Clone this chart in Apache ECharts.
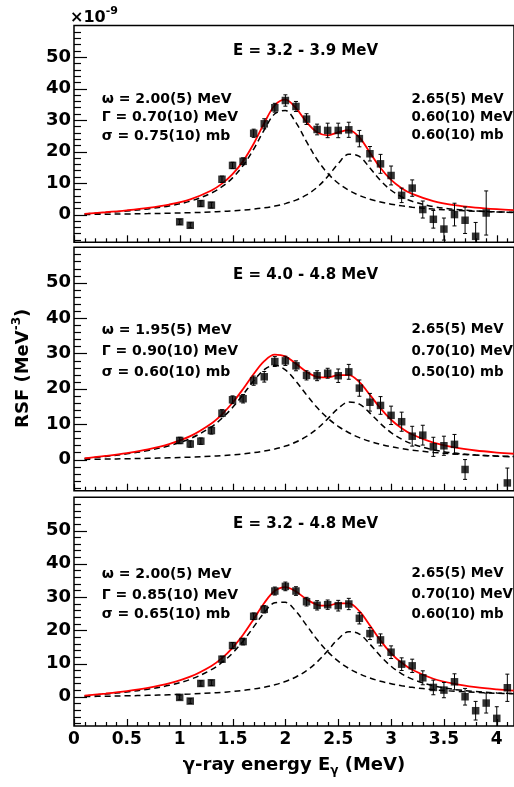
<!DOCTYPE html>
<html><head><meta charset="utf-8">
<script src="https://cdn.jsdelivr.net/npm/echarts@6/dist/echarts.min.js"></script>
<style>html,body{margin:0;padding:0;background:#fff;}#c{width:514px;height:787px;}</style>
</head><body><div id="c"></div>
<script>
// ---------- data ----------
const curveX = [0.1,0.3,0.5,0.7,0.9,1.1,1.3,1.4,1.5,1.6,1.7,1.8,1.9,2.0,2.1,2.2,2.3,2.4,2.5,2.6,2.7,2.8,2.9,3.0,3.1,3.2,3.4,3.6,3.8,4.0,4.16];

const topC1  = [0.20,0.63,1.14,1.80,2.75,4.25,6.82,8.84,11.65,15.55,20.76,26.89,31.99,33.0,29.16,23.12,17.48,13.11,9.95,7.69,6.07,4.87,3.98,3.30,2.77,2.35,1.75,1.34,1.06,0.85,0.73];
const topC2  = [0.04,0.11,0.20,0.30,0.43,0.59,0.82,0.98,1.17,1.41,1.73,2.14,2.70,3.48,4.60,6.23,8.63,12.05,16.17,19.13,18.44,14.77,10.78,7.72,5.62,4.20,2.53,1.66,1.16,0.85,0.68];
const topFit = [0.24,0.74,1.34,2.10,3.18,4.84,7.64,9.82,12.82,16.96,22.49,29.03,34.69,36.48,33.76,29.35,26.11,25.16,26.12,26.82,24.51,19.64,14.76,11.02,8.39,6.55,4.28,3.00,2.22,1.70,1.41];

const midC1  = [0.29,0.90,1.62,2.56,3.89,5.93,9.26,11.67,14.72,18.37,22.25,25.43,26.65,25.34,22.13,18.29,14.70,11.73,9.40,7.59,6.21,5.14,4.30,3.63,3.10,2.67,2.03,1.59,1.26,1.03,0.88];
const midC2  = [0.04,0.13,0.23,0.35,0.49,0.68,0.94,1.11,1.33,1.60,1.95,2.40,3.00,3.82,4.95,6.53,8.70,11.50,14.46,16.27,15.68,13.14,10.15,7.63,5.75,4.41,2.74,1.83,1.30,0.96,0.77];
const midFit = [0.33,1.03,1.85,2.91,4.38,6.61,10.20,12.78,16.05,19.97,24.20,27.83,29.65,29.16,27.08,24.82,23.40,23.23,23.86,23.86,21.89,18.28,14.45,11.26,8.85,7.08,4.77,3.42,2.56,1.99,1.65];

const botC1  = [0.26,0.80,1.44,2.27,3.43,5.21,8.14,10.30,13.13,16.74,21.01,25.31,28.25,28.4,25.69,21.48,17.21,13.57,10.71,8.53,6.89,5.63,4.66,3.91,3.31,2.83,2.13,1.65,1.31,1.06,0.90];
const botC2  = [0.05,0.16,0.28,0.42,0.59,0.82,1.13,1.33,1.60,1.92,2.34,2.89,3.61,4.59,5.95,7.85,10.46,13.83,17.39,19.57,18.86,15.80,12.21,9.17,6.91,5.30,3.29,2.20,1.56,1.15,0.93];
const botFit = [0.31,0.96,1.72,2.69,4.02,6.03,9.27,11.63,14.73,18.66,23.35,28.20,31.86,32.99,31.64,29.33,27.67,27.40,28.10,28.10,25.75,21.43,16.87,13.08,10.22,8.13,5.42,3.85,2.87,2.21,1.83];

const topPtsX = [1.0,1.1,1.2,1.3,1.4,1.5,1.6,1.7,1.8,1.9,2.0,2.1,2.2,2.3,2.4,2.5,2.6,2.7,2.8,2.9,3.0,3.1,3.2,3.3,3.4,3.5,3.6,3.7,3.8,3.9];
const topPtsY = [-2.3,-3.4,3.5,3.0,11.2,15.6,16.9,25.8,28.8,33.9,36.2,34.3,30.3,27.0,26.7,26.7,26.9,24.1,19.3,16.1,12.4,6.1,8.4,1.6,-1.5,-4.6,0.0,-1.8,-6.9,0.5];
const topPtsErr = [0.8,0.8,0.9,0.9,1.0,1.0,1.1,1.3,1.6,1.4,1.8,1.6,1.7,1.7,2.3,2.3,2.4,2.6,2.3,3.0,3.0,2.3,2.6,2.7,2.8,3.5,3.6,4.2,4.4,7.0];

const midPtsX = [1.0,1.1,1.2,1.3,1.4,1.5,1.6,1.7,1.8,1.9,2.0,2.1,2.2,2.3,2.4,2.5,2.6,2.7,2.8,2.9,3.0,3.1,3.2,3.3,3.4,3.5,3.6,3.7,4.1];
const midPtsY = [5.4,4.4,5.2,8.2,13.1,16.9,17.2,22.3,23.4,27.7,27.9,26.5,23.8,23.7,24.4,23.7,24.8,20.2,16.2,15.3,12.5,10.7,6.6,6.9,3.6,3.9,4.3,-2.8,-6.6];
const midPtsErr = [0.9,0.9,0.9,1.0,1.0,1.1,1.2,1.3,1.5,1.4,1.3,1.4,1.3,1.4,1.4,1.9,2.1,2.3,2.5,2.5,2.6,2.7,2.8,2.8,2.7,2.7,2.8,2.8,4.2];

const botPtsX = [1.0,1.1,1.2,1.3,1.4,1.5,1.6,1.7,1.8,1.9,2.0,2.1,2.2,2.3,2.4,2.5,2.6,2.7,2.8,2.9,3.0,3.1,3.2,3.3,3.4,3.5,3.6,3.7,3.8,3.9,4.0,4.1];
const botPtsY = [-0.2,-1.3,4.0,4.2,11.3,15.4,16.6,24.2,26.3,31.8,33.2,31.8,28.6,27.5,27.7,27.4,27.9,23.6,19.0,17.1,13.4,9.8,9.3,5.7,2.8,2.0,4.5,0.0,-4.2,-1.9,-6.5,2.7];
const botPtsErr = [0.7,0.7,0.8,0.8,0.9,0.9,1.0,1.0,1.1,1.2,1.3,1.3,1.3,1.4,1.4,1.6,1.7,1.7,1.8,1.8,1.9,1.9,2.0,2.1,2.2,2.3,2.4,2.5,2.8,3.0,3.5,4.1];

const xMajorTicks = [0,0.5,1,1.5,2,2.5,3,3.5,4];
const xMinorTicks = [0.1,0.2,0.3,0.4,0.6,0.7,0.8,0.9,1.1,1.2,1.3,1.4,1.6,1.7,1.8,1.9,2.1,2.2,2.3,2.4,2.6,2.7,2.8,2.9,3.1,3.2,3.3,3.4,3.6,3.7,3.8,3.9,4.1];
const yMajorTicks = [0,10,20,30,40,50];
const yMinorTicks = [-8,-6,-4,-2,2,4,6,8,12,14,16,18,22,24,26,28,32,34,36,38,42,44,46,48,52,54,56,58];

const panelTitles = ['E = 3.2 - 3.9 MeV','E = 4.0 - 4.8 MeV','E = 3.2 - 4.8 MeV'];
const leftNotes = [
  ['ω = 2.00(5) MeV','Γ = 0.70(10) MeV','σ = 0.75(10) mb'],
  ['ω = 1.95(5) MeV','Γ = 0.90(10) MeV','σ = 0.60(10) mb'],
  ['ω = 2.00(5) MeV','Γ = 0.85(10) MeV','σ = 0.65(10) mb']
];
const rightNotes = [
  ['2.65(5) MeV','0.60(10) MeV','0.60(10) mb'],
  ['2.65(5) MeV','0.70(10) MeV','0.50(10) mb'],
  ['2.65(5) MeV','0.70(10) MeV','0.60(10) mb']
];

// ---------- layout ----------
const FONT = 'DejaVu Sans';
const X_MIN = 0, X_MAX = 4.163, Y_MIN = -8.8, Y_MAX = 60;
const panels = [
  {top:25.5, height:216.8, c1:topC1, c2:topC2, fit:topFit, px:topPtsX, py:topPtsY, pe:topPtsErr, titleY:50.7, noteY:[99.3,117.3,136]},
  {top:247.3, height:243.4, c1:midC1, c2:midC2, fit:midFit, px:midPtsX, py:midPtsY, pe:midPtsErr, titleY:275, noteY:[330,351.7,372.7]},
  {top:497.3, height:228.7, c1:botC1, c2:botC2, fit:botFit, px:botPtsX, py:botPtsY, pe:botPtsErr, titleY:524, noteY:[574,595,614.3]}
];

const grid = [], xAxis = [], yAxis = [], series = [], graphic = [];
const pair = (xs, ys) => xs.map((x, k) => [x, ys[k]]);
const crisp = v => Math.round(v) + 0.5;

panels.forEach((p, i) => {
  grid.push({left:74, top:p.top, width:440, height:p.height, show:true,
    borderColor:'#000', borderWidth:1.5});
  xAxis.push({type:'value', gridIndex:i, position:'bottom', min:X_MIN, max:X_MAX,
    axisLine:{show:false, onZero:false}, splitLine:{show:false}, axisTick:{show:false},
    axisLabel:{show:i === 2, customValues:xMajorTicks.slice(), color:'#000', fontFamily:FONT,
      fontWeight:'bold', fontSize:17, margin:5}});
  yAxis.push({type:'value', gridIndex:i, position:'left', min:Y_MIN, max:Y_MAX,
    axisLine:{show:false, onZero:false}, splitLine:{show:false}, axisTick:{show:false},
    axisLabel:{show:true, customValues:yMajorTicks.slice(), color:'#000', fontFamily:FONT,
      fontWeight:'bold', fontSize:18, margin:3}});

  series.push({type:'line', xAxisIndex:i, yAxisIndex:i, data:pair(curveX, p.c1), smooth:0.35,
    showSymbol:false, lineStyle:{color:'#000', width:1.5, type:[6,4]}, z:2, silent:true});
  series.push({type:'line', xAxisIndex:i, yAxisIndex:i, data:pair(curveX, p.c2), smooth:0.35,
    showSymbol:false, lineStyle:{color:'#000', width:1.5, type:[6,4]}, z:2, silent:true});
  series.push({type:'line', xAxisIndex:i, yAxisIndex:i, data:pair(curveX, p.fit), smooth:0.35,
    showSymbol:false, lineStyle:{color:'#ff0000', width:1.8}, z:3, silent:true});
  series.push({type:'custom', xAxisIndex:i, yAxisIndex:i, clip:true, z:4, silent:true,
    data:p.px.map((x, k) => [x, p.py[k], p.pe[k]]),
    encode:{x:0, y:1},
    renderItem:function(params, api){
      const x = api.value(0), y = api.value(1), e = api.value(2);
      const a = api.coord([x, y + e]), b = api.coord([x, y - e]);
      const st = {stroke:'#000', lineWidth:1};
      return {type:'group', children:[
        {type:'line', shape:{x1:a[0], y1:a[1], x2:b[0], y2:b[1]}, style:st},
        {type:'line', shape:{x1:a[0]-2, y1:a[1], x2:a[0]+2, y2:a[1]}, style:st},
        {type:'line', shape:{x1:b[0]-2, y1:b[1], x2:b[0]+2, y2:b[1]}, style:st}
      ]};
    }});
  series.push({type:'scatter', xAxisIndex:i, yAxisIndex:i, data:pair(p.px, p.py),
    symbol:'rect', symbolSize:7.5, itemStyle:{color:'#000'}, z:5, silent:true, clip:true});

  graphic.push({type:'text', x:305.5, y:p.titleY, z:10,
    style:{text:panelTitles[i], fontFamily:FONT, fontWeight:'bold', fontSize:15, fill:'#000',
      align:'center', verticalAlign:'middle'}});
  p.noteY.forEach((ny, k) => {
    graphic.push({type:'text', x:101.7, y:ny, z:10,
      style:{text:leftNotes[i][k], fontFamily:FONT, fontWeight:'bold', fontSize:14, fill:'#000',
        align:'left', verticalAlign:'middle'}});
    graphic.push({type:'text', x:411.5, y:ny, z:10,
      style:{text:rightNotes[i][k], fontFamily:FONT, fontWeight:'bold', fontSize:13.4, fill:'#000',
        align:'left', verticalAlign:'middle'}});
  });
});

// axis titles and exponent
graphic.push({type:'text', x:70, y:16, z:10,
  style:{text:'{a|×10}{s|-9}', align:'left', verticalAlign:'middle',
    rich:{a:{fontFamily:FONT, fontWeight:'bold', fontSize:16, lineHeight:20, fill:'#000', verticalAlign:'bottom'},
          s:{fontFamily:FONT, fontWeight:'bold', fontSize:11, lineHeight:20, fill:'#000', verticalAlign:'top', padding:[0,0,6,0]}}}});
graphic.push({type:'text', x:23, y:368.3, rotation:Math.PI/2, z:10,
  style:{text:'{a|RSF (MeV}{s|-3}{a|)}', align:'center', verticalAlign:'middle',
    rich:{a:{fontFamily:FONT, fontWeight:'bold', fontSize:18, lineHeight:24, fill:'#000'},
          s:{fontFamily:FONT, fontWeight:'bold', fontSize:12, lineHeight:24, fill:'#000', verticalAlign:'top', padding:[0,0,8,0]}}}});
graphic.push({type:'text', x:294, y:765, z:10,
  style:{text:'{a|γ-ray energy E}{s|γ}{a| (MeV)}', align:'center', verticalAlign:'middle',
    rich:{a:{fontFamily:FONT, fontWeight:'bold', fontSize:18, lineHeight:24, fill:'#000'},
          s:{fontFamily:FONT, fontWeight:'bold', fontSize:12, lineHeight:24, fill:'#000', verticalAlign:'bottom', padding:[8,0,0,0]}}}});

const chart = echarts.init(document.getElementById('c'), null, {renderer:'canvas'});
chart.setOption({animation:false, backgroundColor:'#fff', grid, xAxis, yAxis, series, graphic});

// tick marks, placed through each panel's axis scales
const tickStyle = {stroke:'#000', lineWidth:1.2};
const tickGraphics = [];
panels.forEach((p, i) => {
  const finder = {gridIndex:i};
  xMajorTicks.map(v => [v, 7]).concat(xMinorTicks.map(v => [v, 4])).forEach(([v, len]) => {
    const pt = chart.convertToPixel(finder, [v, Y_MIN]);
    const x = crisp(pt[0]);
    tickGraphics.push({type:'line', z:9, silent:true,
      shape:{x1:x, y1:pt[1], x2:x, y2:pt[1] - len}, style:tickStyle});
  });
  yMajorTicks.map(v => [v, 13]).concat(yMinorTicks.map(v => [v, 7])).forEach(([v, len]) => {
    const pt = chart.convertToPixel(finder, [X_MIN, v]);
    const y = crisp(pt[1]);
    tickGraphics.push({type:'line', z:9, silent:true,
      shape:{x1:pt[0], y1:y, x2:pt[0] + len, y2:y}, style:tickStyle});
  });
});
chart.setOption({graphic: graphic.concat(tickGraphics)});
</script></body></html>
